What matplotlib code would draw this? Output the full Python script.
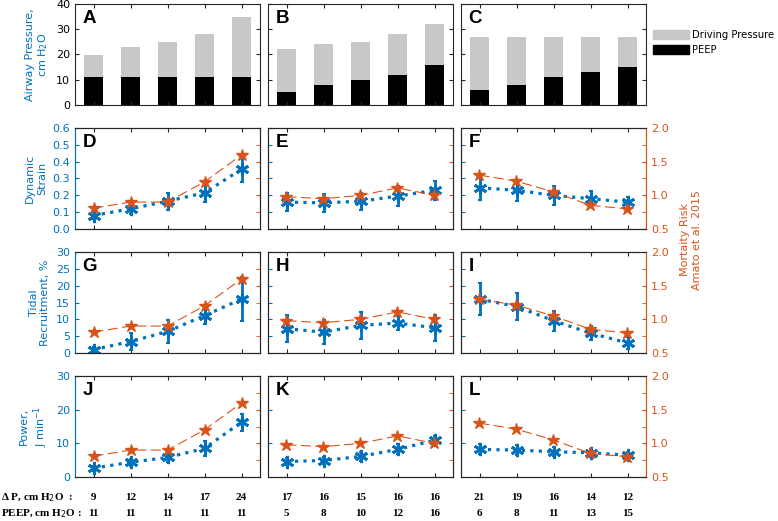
import numpy as np
import matplotlib.pyplot as plt
from matplotlib.patches import Patch
from matplotlib.ticker import MultipleLocator
from matplotlib.transforms import blended_transform_factory

blue = '#0072BD'
orange = '#D95319'
light = '#C8C8C8'
dark = '#262626'

x = np.arange(1, 6)

# pressures per column (A/B/C)
peep = [[11, 11, 11, 11, 11], [5, 8, 10, 12, 16], [6, 8, 11, 13, 15]]
dp = [[9, 12, 14, 17, 24], [17, 16, 15, 16, 16], [21, 19, 16, 14, 12]]

# mortality risk (right axis)
mort = [[0.81, 0.90, 0.90, 1.20, 1.60],
        [0.98, 0.95, 1.00, 1.11, 1.00],
        [1.30, 1.21, 1.05, 0.85, 0.80]]

strain = [[0.08, 0.12, 0.165, 0.215, 0.355],
          [0.16, 0.155, 0.165, 0.195, 0.23],
          [0.245, 0.23, 0.20, 0.18, 0.16]]
strain_err = [[0.02, 0.03, 0.05, 0.055, 0.075],
              [0.055, 0.055, 0.05, 0.06, 0.057],
              [0.07, 0.063, 0.055, 0.047, 0.028]]

recruit = [[1.0, 3.4, 6.4, 11.1, 16.0],
           [7.2, 6.2, 8.2, 8.9, 7.5],
           [16.0, 13.8, 9.6, 5.9, 3.0]]
recruit_err = [[0.8, 2.4, 3.5, 2.5, 6.5],
               [4.0, 3.5, 4.0, 2.2, 3.8],
               [4.7, 4.0, 3.0, 2.1, 1.7]]

power = [[2.6, 4.4, 5.8, 8.5, 16.3],
         [4.6, 4.9, 6.1, 8.2, 10.9],
         [8.2, 8.0, 7.5, 7.2, 6.5]]
power_err = [[0.8, 1.0, 1.3, 2.2, 2.5],
             [1.0, 1.0, 1.2, 1.5, 1.2],
             [1.5, 1.4, 1.3, 1.2, 1.0]]

letters = ['ABC', 'DEF', 'GHI', 'JKL']

plt.rcParams['font.family'] = 'DejaVu Sans'
plt.rcParams['font.size'] = 8

fig = plt.figure(figsize=(7.78, 5.21), dpi=100)
W, H = 778, 521
lefts = [75, 268, 461]
bottoms = [105, 229, 353, 477]


def new_ax(c, r):
    return fig.add_axes([lefts[c] / W, 1 - bottoms[r] / H, 185 / W, 101 / H])


def letter(ax, s):
    ax.text(0.04, 0.94, s, transform=ax.transAxes, fontsize=13.5,
            fontweight='bold', family='Liberation Sans', va='top', ha='left')


# --- top row: bars
for c in range(3):
    ax = new_ax(c, 0)
    ax.bar(x, peep[c], width=0.5, color='k')
    ax.bar(x, dp[c], bottom=peep[c], width=0.5, color=light)
    ax.set_xlim(0.5, 5.5)
    ax.set_ylim(0, 40)
    ax.set_xticks(x)
    ax.set_xticklabels([])
    ax.set_yticks([0, 10, 20, 30, 40])
    ax.tick_params(direction='in', top=True, right=True, length=3,
                   color=dark, labelsize=8)
    for s in ax.spines.values():
        s.set_color(dark)
    if c == 0:
        ax.set_ylabel('Airway Pressure,\ncm H$_2$O', color=blue, fontsize=8)
    else:
        ax.set_yticklabels([])
    letter(ax, letters[0][c])
    if c == 2:
        hh = [Patch(color=light), Patch(color='k')]
        fig.legend(hh, ['Driving Pressure', 'PEEP'], loc='upper left',
                   bbox_to_anchor=(649 / W, 1 - 26 / H), frameon=False,
                   handlelength=3.6, handleheight=1.05, fontsize=7.2,
                   borderaxespad=0, handletextpad=0.3, labelspacing=0.45)

# --- lower rows
rows = [(strain, strain_err, 0.6, 0.1, 'Dynamic\nStrain'),
        (recruit, recruit_err, 30, 5, 'Tidal\nRecruitment, %'),
        (power, power_err, 30, 10, 'Power,\nJ min$^{-1}$')]

bottom_axes = []
for r, (vals, errs, ymax, step, lab) in enumerate(rows):
    for c in range(3):
        ax = new_ax(c, r + 1)
        tw = ax.twinx()
        ax.errorbar(x, vals[c], yerr=errs[c], fmt='none', ecolor=blue,
                    elinewidth=2, capsize=1.5, capthick=1.5)
        ax.plot(x, vals[c], ls=':', lw=2.3, color=blue, marker=(6, 2, 0),
                ms=9.5, mew=2)
        tw.plot(x, mort[c], color=orange, ls=(0, (9, 4)), lw=0.8,
                marker='*', ms=9, mec=orange, mfc=orange)
        ax.set_xlim(0.5, 5.5)
        ax.set_ylim(0, ymax)
        ax.yaxis.set_major_locator(MultipleLocator(step))
        tw.set_ylim(0.5, 2)
        tw.set_yticks([0.5, 1, 1.5, 2])
        tw.yaxis.set_minor_locator(MultipleLocator(0.25))
        ax.set_xticks(x)
        ax.set_xticklabels([])
        ax.tick_params(axis='x', direction='in', top=True, length=3, color=dark)
        ax.tick_params(axis='y', direction='in', length=3, colors=blue,
                       labelsize=8)
        tw.tick_params(axis='y', which='both', direction='in', length=3,
                       colors=orange, labelsize=8)
        for s in ['top', 'bottom']:
            ax.spines[s].set_color(dark)
            tw.spines[s].set_color(dark)
        ax.spines['left'].set_color(blue if c == 0 else dark)
        tw.spines['left'].set_color(blue if c == 0 else dark)
        tw.spines['right'].set_color(orange if c == 2 else dark)
        ax.spines['right'].set_color(orange if c == 2 else dark)
        if c == 0:
            ax.set_ylabel(lab, color=blue, fontsize=8)
        else:
            ax.set_yticklabels([])
        if c != 2:
            tw.set_yticklabels([])
        letter(ax, letters[r + 1][c])
        if r == 2:
            bottom_axes.append(ax)

fig.text(691 / W, 1 - 240 / H, 'Mortaity Risk\nAmato et al. 2015',
         rotation=90, color=orange, ha='center', va='center', fontsize=8)

# --- settings table below the panels
serif = dict(family='Liberation Serif', fontweight='bold', fontsize=8,
             ha='center', va='center')
y1 = 1 - 498 / H
y2 = 1 - 514 / H
fig.text(1 / W, y1, 'Δ P, cm H$_2$O', family='Liberation Serif',
         fontweight='bold', fontsize=8, ha='left', va='center')
fig.text(70 / W, y1, ':', **serif)
fig.text(1 / W, y2, 'PEEP, cm H$_2$O :', family='Liberation Serif',
         fontweight='bold', fontsize=8, ha='left', va='center')
for c, ax in enumerate(bottom_axes):
    tr = blended_transform_factory(ax.transData, fig.transFigure)
    for i in range(5):
        ax.text(x[i], y1, str(dp[c][i]), transform=tr, **serif)
        ax.text(x[i], y2, str(peep[c][i]), transform=tr, **serif)

fig.savefig('out.png', dpi=100)
